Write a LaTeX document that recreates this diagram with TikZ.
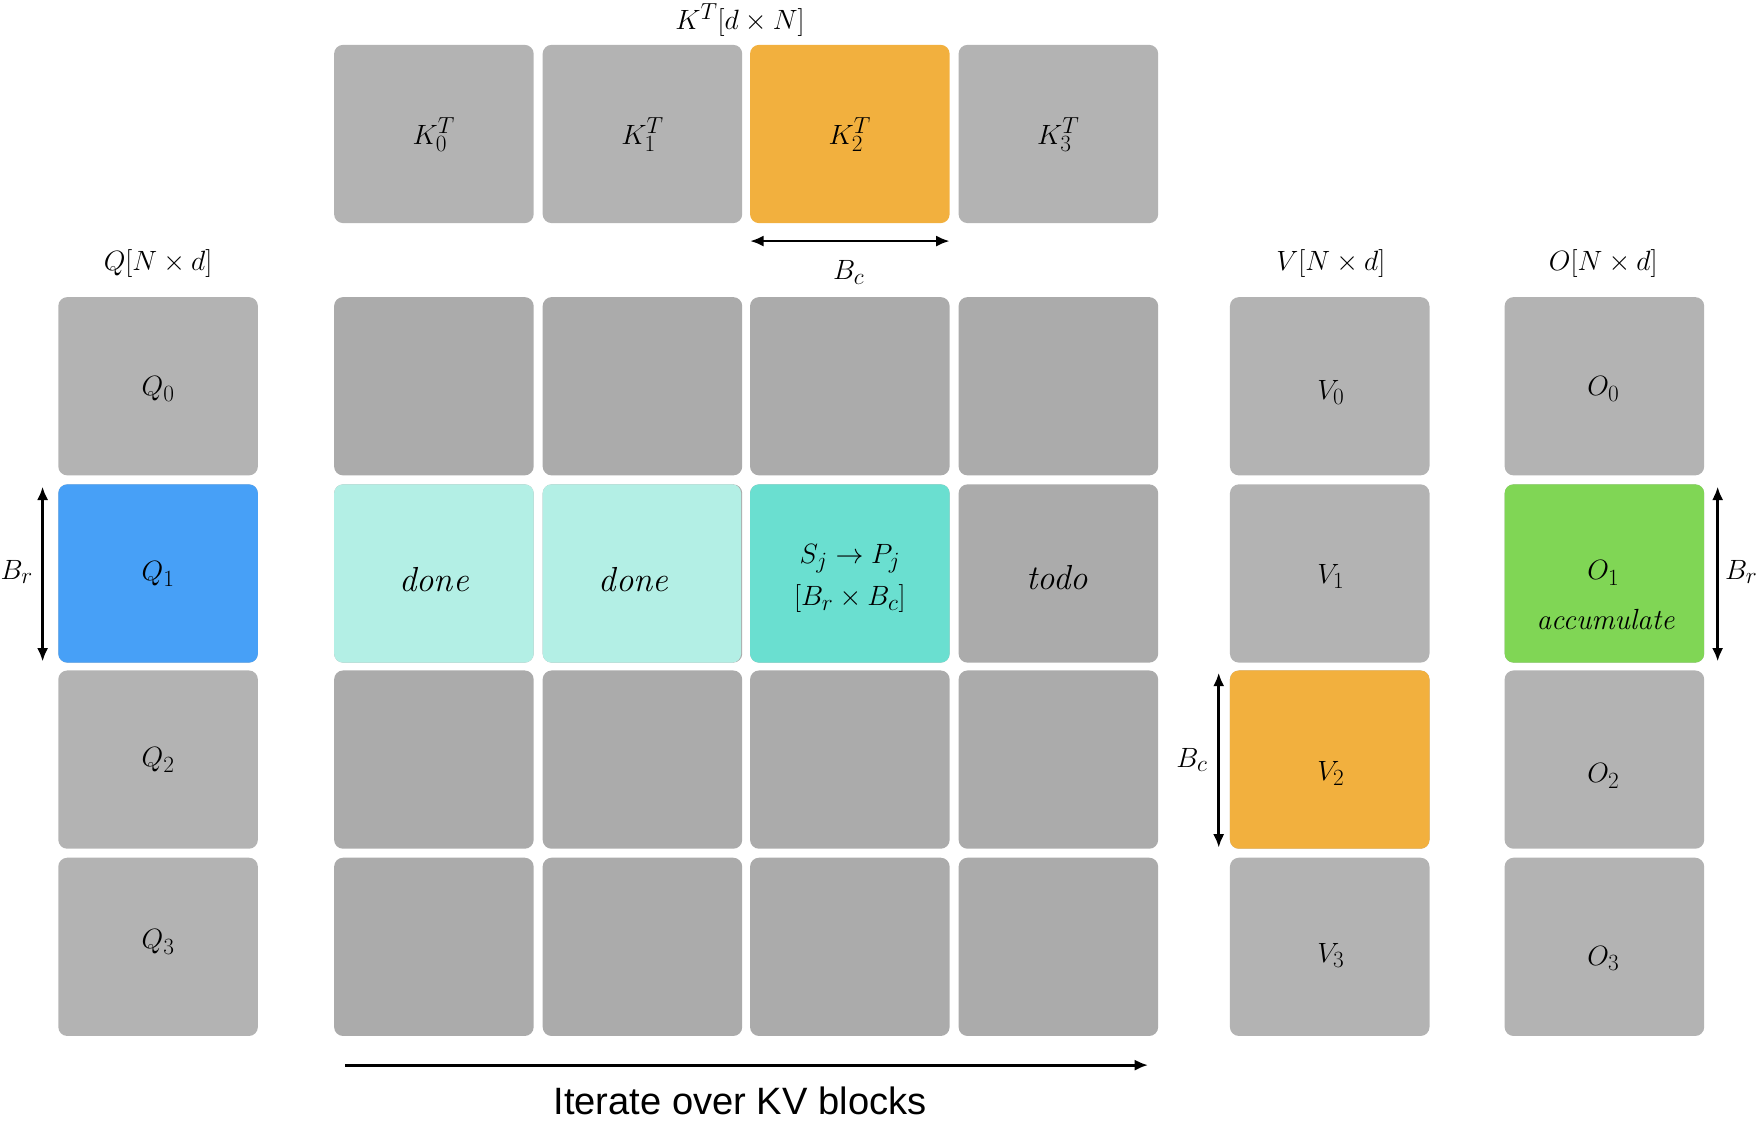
\documentclass[tikz,border=0pt]{standalone}
\usepackage{fontspec}
\newfontfamily\sansf{Liberation Sans}
\begin{document}
\begin{tikzpicture}[x=1pt,y=-1pt,
 lab/.style={font=\fontsize{31}{36}\selectfont},
 dim/.style={<->,>={Latex[length=12pt,width=10pt]},line width=2.5pt}]
\usetikzlibrary{arrows.meta}
\useasboundingbox (0,0) rectangle (1568,1010);
\definecolor{gK}{HTML}{B3B3B3}\definecolor{gG}{HTML}{ABABAB}
\definecolor{orng}{HTML}{F2B03E}\definecolor{blu}{HTML}{47A0F7}
\definecolor{lt}{HTML}{B3EFE5}\definecolor{tl}{HTML}{6ADFD0}\definecolor{grn}{HTML}{80D655}
% K row
\foreach \x/\c [count=\i from 0] in {298/gK,484/gK,669/orng,855/gK}{
  \fill[\c,rounded corners=8pt] (\x,40) rectangle ++(178,159);
  \node[lab] (k\i) at (\x+89,120) {$K_{\i}^T$};}
% rows
\foreach \y [count=\r from 0] in {265,432,598,765}{
  \fill[gK,rounded corners=8pt] (52,\y) rectangle ++(178,159);
  \foreach \x [count=\i from 0] in {298,484,669,855}{
    \fill[gG,rounded corners=8pt] (\x,\y) rectangle ++(178,159);}
  \fill[gK,rounded corners=8pt] (1097,\y) rectangle ++(178,159);
  \fill[gK,rounded corners=8pt] (1342,\y) rectangle ++(178,159);
}
\fill[blu,rounded corners=8pt] (52,432) rectangle ++(178,159);
\fill[lt,rounded corners=8pt] (298,432) rectangle ++(178,159);
\fill[lt,rounded corners=8pt] (484,432) rectangle ++(177,159);
\fill[tl,rounded corners=8pt] (669,432) rectangle ++(178,159);
\fill[orng,rounded corners=8pt] (1097,598) rectangle ++(178,159);
\fill[grn,rounded corners=8pt] (1342,432) rectangle ++(178,159);
\node[lab] (q0) at (141,347) {$Q_0$};
\node[lab] (q1) at (141,512) {$Q_1$};
\node[lab] (q2) at (141,678) {$Q_2$};
\node[lab] (q3) at (141,840) {$Q_3$};
\node[lab] (v0) at (1187,350) {$V_0$};
\node[lab] (v1) at (1187,514) {$V_1$};
\node[lab] (v2) at (1187,690) {$V_2$};
\node[lab] (v3) at (1187,852) {$V_3$};
\node[lab] (o0) at (1430,347) {$O_0$};
\node[lab] (o1) at (1430,511) {$O_1$};
\node[font=\fontsize{26}{30}\selectfont\itshape] (acc) at (1432,553) {accumulate};
\node[lab] (o2) at (1430,692) {$O_2$};
\node[lab] (o3) at (1430,855) {$O_3$};
\node[font=\fontsize{31}{36}\selectfont\itshape] (d0) at (387,517) {done};
\node[font=\fontsize{31}{36}\selectfont\itshape] (d1) at (565,517) {done};
\node[font=\fontsize{31}{36}\selectfont\itshape] (td) at (943,515) {todo};
\node[lab,align=center] (s) at (758,516) {$S_j\rightarrow P_j$\\[2pt]$[B_r\times B_c]$};
% titles
\node[lab] (kt) at (660,18) {$K^T[d\times N]$};
\node[lab] (qt) at (141,235) {$Q[N\times d]$};
\node[lab] (vt) at (1187,235) {$V[N\times d]$};
\node[lab] (ot) at (1430,235) {$O[N\times d]$};
% dimension arrows
\coordinate (a1) at (669,215);\coordinate (a2) at (847,215);
\draw[dim] (a1) -- (a2); \node[lab] (bc1) at (757,243) {$B_c$};
\coordinate (b1) at (38,434);\coordinate (b2) at (38,590);
\draw[dim] (b1) -- (b2); \node[lab] (br1) at (15,510) {$B_r$};
\coordinate (c1) at (1087,600);\coordinate (c2) at (1087,756);
\draw[dim] (c1) -- (c2); \node[lab] (bc2) at (1063,678) {$B_c$};
\coordinate (e1) at (1532,434);\coordinate (e2) at (1532,590);
\draw[dim] (e1) -- (e2); \node[lab] (br2) at (1553,510) {$B_r$};
\coordinate (f1) at (308,950);\coordinate (f2) at (1024,950);
\draw[-{Latex[length=12pt,width=10pt]},line width=2.5pt] (f1) -- (f2);
\node[font=\sansf\fontsize{34}{40}\selectfont] (it) at (660,982) {Iterate over KV blocks};
\end{tikzpicture}
\end{document}
